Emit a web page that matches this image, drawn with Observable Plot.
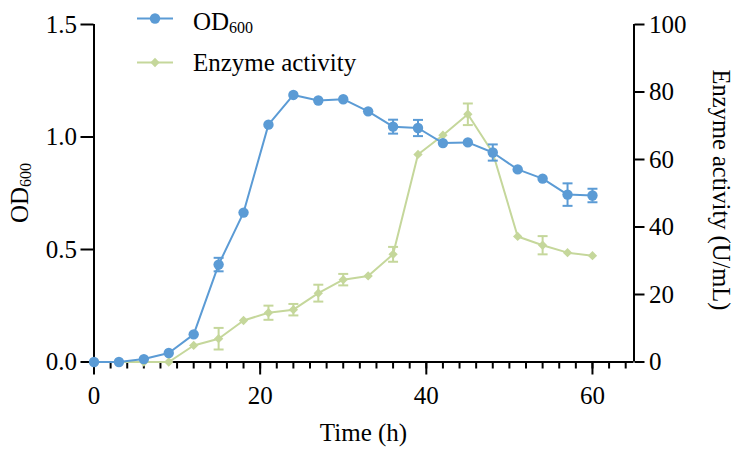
<!DOCTYPE html>
<html><head><meta charset="utf-8">
<script src="https://cdn.jsdelivr.net/npm/d3@7"></script>
<script src="https://cdn.jsdelivr.net/npm/@observablehq/plot@0.6"></script>
<style>html,body{margin:0;padding:0;background:#fff} svg{display:block}</style>
</head><body><div id="chart"></div>
<script>
const time = [0,3,6,9,12,15,18,21,24,27,30,33,36,39,42,45,48,51,54,57,60];
const od600 = [0,0,0.013,0.04,0.123,0.433,0.664,1.055,1.187,1.162,1.168,1.114,1.046,1.04,0.973,0.976,0.931,0.856,0.815,0.744,0.74];
const od600Err = [0,0,0,0,0,0.03,0,0,0,0,0,0,0.031,0.036,0,0,0.036,0,0,0.05,0.03];
const enzyme = [0,0,0,0,4.9,6.9,12.3,14.6,15.5,20.4,24.4,25.5,31.9,61.5,67.2,73.4,62,37.2,34.6,32.4,31.5];
const enzymeErr = [0,0,0,0,0,3.2,0,2.1,1.7,2.5,1.7,0,2.2,0,0,3.2,0,0,2.7,0,0];
const odTicks = [0,0.5,1.0,1.5];
const enzTicks = [0,20,40,60,80,100];
const xTicks = [0,20,40,60];
const xMinorTicks = [0,2,4,6,8,10,12,14,16,18,20,22,24,26,28,30,32,34,36,38,40,42,44,46,48,50,52,54,56,58,60,62,64];
const seriesNames = ["OD600", "Enzyme activity"];

const blue = "#5b9bd5";
const green = "#c5d79b";
const k = 1.5 / 100; // enzyme units -> OD axis units
const cap = 0.6;

const rows = time.map((t, i) => ({
  t, od: od600[i], odErr: od600Err[i],
  enz: enzyme[i] * k, enzErr: enzymeErr[i] * k
}));
const odE = rows.filter(d => d.odErr > 0);
const enE = rows.filter(d => d.enzErr > 0);

const font = "'Liberation Serif', 'Times New Roman', serif";

const chart = Plot.plot({
  width: 738, height: 455,
  marginLeft: 93.5, marginRight: 104.5, marginTop: 24, marginBottom: 93.5,
  style: {fontFamily: font, fontSize: "25px", color: "black", background: "white"},
  x: {domain: [0, 65]},
  y: {domain: [0, 1.5]},
  marks: [
    Plot.axisX({ticks: xMinorTicks, tickSize: 7, strokeWidth: 2, tickFormat: () => "", label: null}),
    Plot.axisX({ticks: xTicks, tickSize: 13, tickPadding: 11, strokeWidth: 2, tickFormat: d => String(d), label: null}),
    Plot.axisY({ticks: odTicks, tickSize: 13, tickPadding: 4, strokeWidth: 2, tickFormat: d3.format(".1f"), label: null}),
    Plot.axisY({anchor: "right", ticks: enzTicks.map(v => v * k), tickSize: 10, tickPadding: 5, strokeWidth: 2,
      tickFormat: v => String(Math.round(v / k)), label: null}),
    Plot.ruleY([0], {strokeWidth: 2}),
    Plot.ruleX([0], {strokeWidth: 2}),
    Plot.ruleX([65], {strokeWidth: 2}),
    // enzyme series
    Plot.line(rows, {x: "t", y: "enz", stroke: green, strokeWidth: 2}),
    Plot.ruleX(enE, {x: "t", y1: d => d.enz - d.enzErr, y2: d => d.enz + d.enzErr, stroke: green, strokeWidth: 2}),
    Plot.link(enE, {x1: d => d.t - cap, x2: d => d.t + cap, y1: d => d.enz + d.enzErr, y2: d => d.enz + d.enzErr, stroke: green, strokeWidth: 2}),
    Plot.link(enE, {x1: d => d.t - cap, x2: d => d.t + cap, y1: d => d.enz - d.enzErr, y2: d => d.enz - d.enzErr, stroke: green, strokeWidth: 2}),
    Plot.dot(rows, {x: "t", y: "enz", symbol: "diamond2", r: 4.2, fill: green, stroke: "none"}),
    // OD series
    Plot.line(rows, {x: "t", y: "od", stroke: blue, strokeWidth: 2}),
    Plot.ruleX(odE, {x: "t", y1: d => d.od - d.odErr, y2: d => d.od + d.odErr, stroke: blue, strokeWidth: 2}),
    Plot.link(odE, {x1: d => d.t - cap, x2: d => d.t + cap, y1: d => d.od + d.odErr, y2: d => d.od + d.odErr, stroke: blue, strokeWidth: 2}),
    Plot.link(odE, {x1: d => d.t - cap, x2: d => d.t + cap, y1: d => d.od - d.odErr, y2: d => d.od - d.odErr, stroke: blue, strokeWidth: 2}),
    Plot.dot(rows, {x: "t", y: "od", r: 5.2, fill: blue, stroke: "none"})
  ]
});

document.getElementById("chart").appendChild(chart);
const svg = d3.select(chart);

function subText(sel, main, sub, subDy) {
  sel.append("tspan").text(main);
  sel.append("tspan").attr("font-size", "16px").attr("dy", subDy).text(sub);
}

// Axis titles
const g = svg.append("g").attr("font-family", font).attr("fill", "black");
g.append("text").attr("x", 363.5).attr("y", 441).attr("text-anchor", "middle").attr("font-size", 25).text("Time (h)");
const lt = g.append("text").attr("transform", "translate(28,193) rotate(-90)").attr("text-anchor", "middle").attr("font-size", 25);
subText(lt, "OD", "600", 3);
g.append("text").attr("transform", "translate(713,190) rotate(90)").attr("text-anchor", "middle").attr("font-size", 24.5).text("Enzyme activity (U/mL)");

// Legend
const leg = svg.append("g").attr("font-family", font).attr("fill", "black").attr("text-anchor", "start");
leg.append("line").attr("x1", 137).attr("x2", 173).attr("y1", 18.5).attr("y2", 18.5).attr("stroke", blue).attr("stroke-width", 2);
leg.append("circle").attr("cx", 155).attr("cy", 18.5).attr("r", 5.2).attr("fill", blue);
const t1 = leg.append("text").attr("x", 193).attr("y", 30).attr("font-size", 25).attr("text-anchor", "start");
subText(t1, "OD", "600", 3);
leg.append("line").attr("x1", 137).attr("x2", 173).attr("y1", 62.5).attr("y2", 62.5).attr("stroke", green).attr("stroke-width", 2);
leg.append("path").attr("d", d3.symbol(d3.symbolDiamond2, Math.PI * 4.2 * 4.2)()).attr("transform", "translate(155,62.5)").attr("fill", green);
leg.append("text").attr("x", 193).attr("y", 71).attr("font-size", 25).attr("text-anchor", "start").text(seriesNames[1]);
</script>
</body></html>
